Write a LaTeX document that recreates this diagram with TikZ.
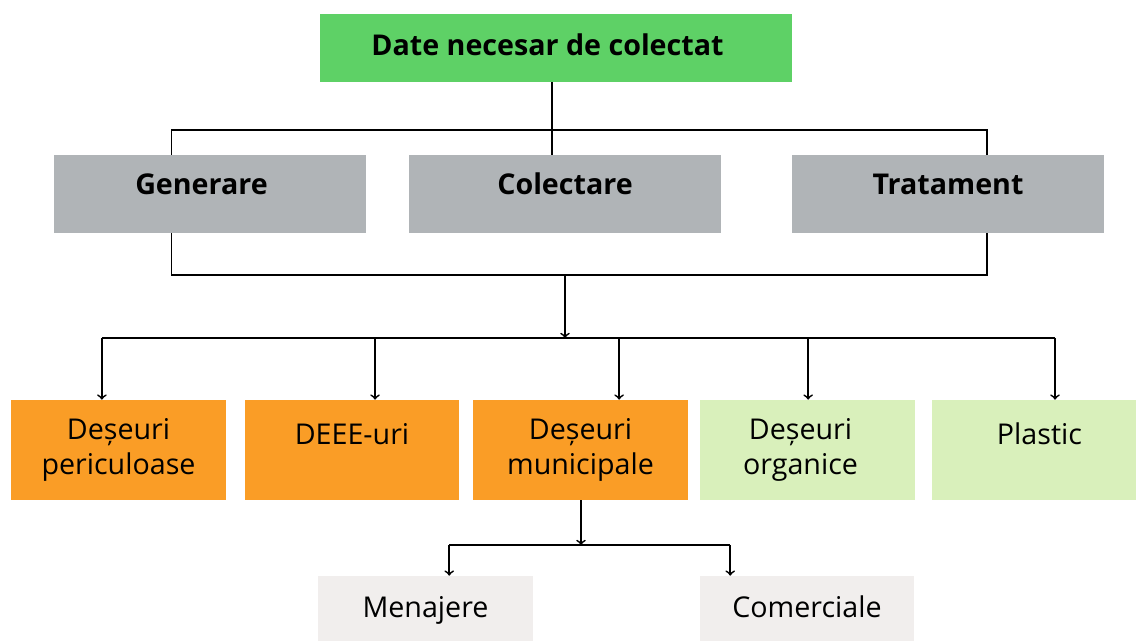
\documentclass[tikz,border=0pt]{standalone}
\usepackage{fontspec}
\setmainfont{Open Sans}
\definecolor{topgreen}{RGB}{94,209,102}
\definecolor{catgray}{RGB}{176,180,183}
\definecolor{wasteorange}{RGB}{250,157,38}
\definecolor{palegreen}{RGB}{217,240,187}
\definecolor{palegray}{RGB}{241,238,237}

\begin{document}
\begin{tikzpicture}[x=0.02cm,y=-0.02cm,
    box/.style={rectangle,inner sep=0pt,font=\fontsize{16.3}{19.5}\selectfont},
    topbox/.style={box,fill=topgreen,minimum width=9.46cm,minimum height=1.36cm,
      text height=0.42cm,text depth=0.12cm,font=\fontsize{16.3}{19.5}\selectfont\bfseries},
    catbox/.style={box,fill=catgray,minimum width=6.26cm,minimum height=1.56cm,
      text height=0.42cm,text depth=0.38cm,font=\fontsize{16.3}{19.5}\selectfont\bfseries},
    wastebox/.style={box,minimum width=4.3cm,minimum height=2cm,align=center},
    onetext/.style={text height=0.42cm,text depth=0.62cm},
    subbox/.style={box,fill=palegray,minimum width=4.3cm,minimum height=1.3cm,
      text height=0.45cm,text depth=0.1cm},
    link/.style={line width=1pt},
    arr/.style={link,->}]
    \useasboundingbox (0,0) rectangle (1136,641);

    \path (556,48)  node [topbox] (top) {Date necesar de colectat\hspace*{0.34cm}};

    \path (210,194) node [catbox] (gen) {Generare\hspace*{0.34cm}};
    \path (565,194) node [catbox] (col) {Colectare};
    \path (948,194) node [catbox] (tra) {Tratament};
    \path (gen.north west) -- (gen.north east) coordinate [pos=.377] (gen1);
    \path (tra.north west) -- (tra.north east) coordinate [pos=.625] (tra1);
    \path (gen.south west) -- (gen.south east) coordinate [pos=.377] (gen2);
    \path (tra.south west) -- (tra.south east) coordinate [pos=.625] (tra2);

    \coordinate (j1) at (552,130);
    \coordinate (j2) at (565,275);
    \coordinate (j3) at (565,338);
    \draw [link] (top.south -| j1) -- (j1 |- col.north);
    \draw [link] (gen1) |- (j1) -| (tra1);
    \draw [link] (gen2) |- (j2) -| (tra2);
    \draw [arr] (j2) -- (j3);

    \path (118.5,450)  node [wastebox,fill=wasteorange] (dp) {Deșeuri\\periculoase};
    \path (352,450)    node [wastebox,fill=wasteorange,onetext] (deee) {DEEE-uri};
    \path (580.5,450)  node [wastebox,fill=wasteorange] (dm) {Deșeuri\\municipale};
    \path (807.5,450)  node [wastebox,fill=palegreen] (dor) {Deșeuri\hspace*{0.28cm}\\organice\hspace*{0.28cm}};
    \path (1039.5,450) node [wastebox,fill=palegreen,onetext] (pl) {Plastic};
    \path (dp.north west) -- (dp.north east) coordinate [pos=.423] (dp1);
    \path (deee.north west) -- (deee.north east) coordinate [pos=.607] (deee1);
    \path (dm.north west) -- (dm.north east) coordinate [pos=.679] (dm1);
    \path (dor.north west) -- (dor.north east) coordinate [pos=.503] (dor1);
    \path (pl.north west) -- (pl.north east) coordinate [pos=.572] (pl1);

    \draw [link] (dp1 |- j3) -- (pl1 |- j3);
    \draw [arr] (dp1 |- j3) -- (dp1);
    \draw [arr] (deee1 |- j3) -- (deee1);
    \draw [arr] (dm1 |- j3) -- (dm1);
    \draw [arr] (dor1 |- j3) -- (dor1);
    \draw [arr] (pl1 |- j3) -- (pl1);

    \path (425.5,608.5) node [subbox] (men) {Menajere};
    \path (807,608.5)   node [subbox] (com) {Comerciale};
    \path (men.north west) -- (men.north east) coordinate [pos=.61] (men1);
    \path (com.north west) -- (com.north east) coordinate [pos=.144] (com1);
    \coordinate (j4) at (581,545);
    \draw [arr] (dm.south -| j4) -- (j4);
    \draw [link] (men1 |- j4) -- (com1 |- j4);
    \draw [arr] (men1 |- j4) -- (men1);
    \draw [arr] (com1 |- j4) -- (com1);
\end{tikzpicture}
\end{document}
